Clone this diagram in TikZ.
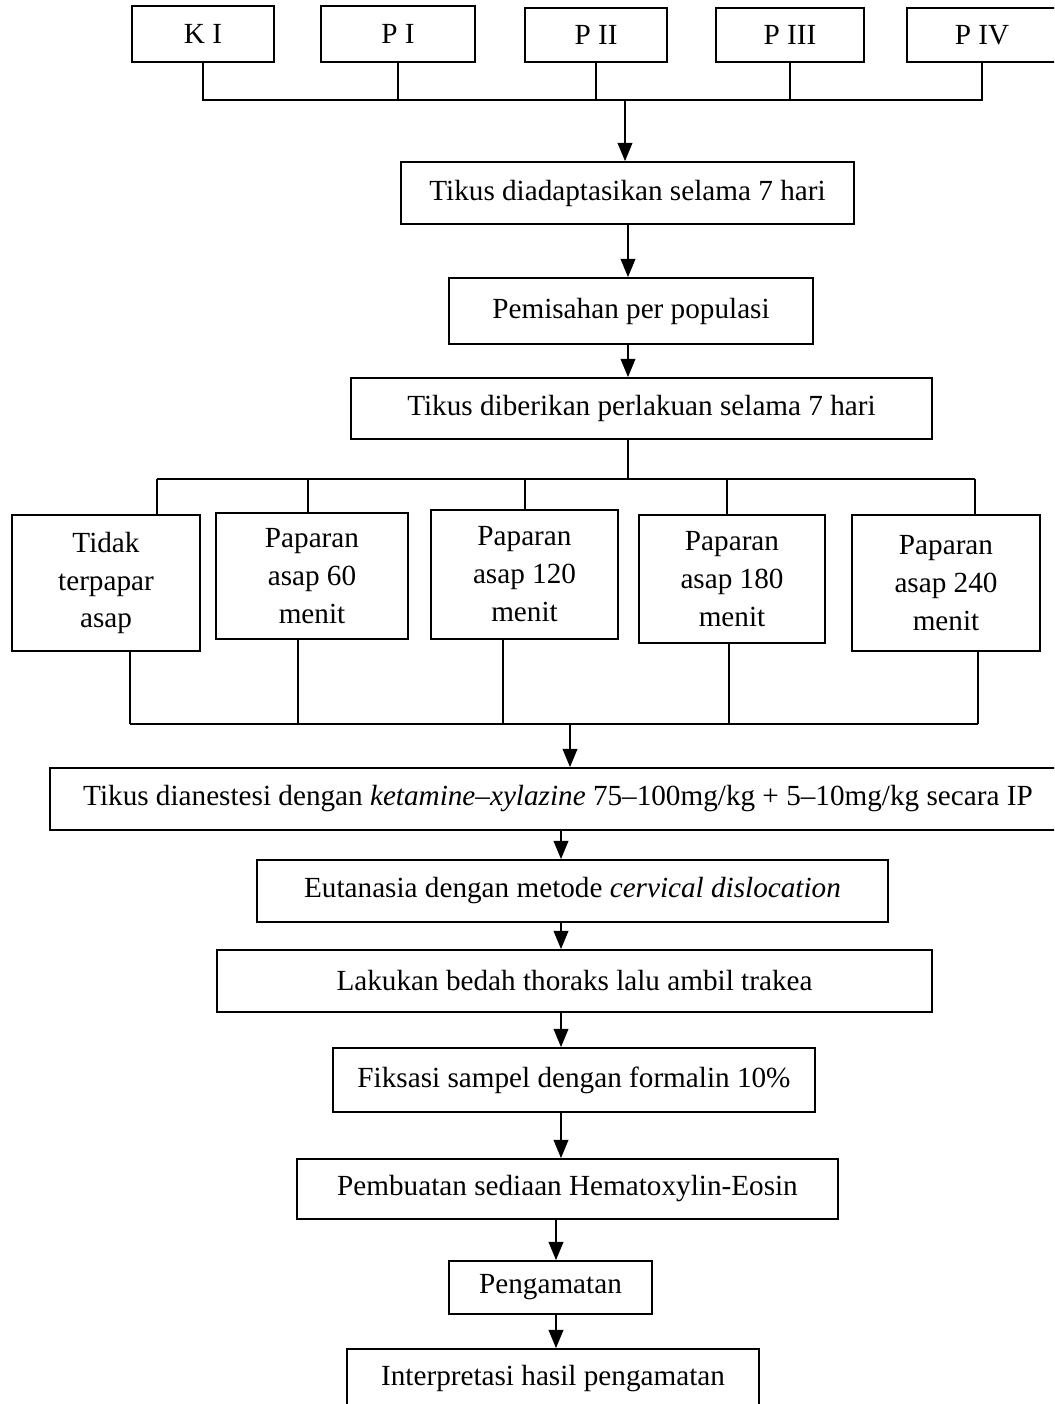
\documentclass[tikz,border=0pt]{standalone}
\usepackage{fontspec}
\setmainfont{Liberation Serif}
\usetikzlibrary{arrows.meta, positioning}
\newcommand{\px}{0.411pt}

\begin{document}
\begin{tikzpicture}[x=\px, y=-\px, every node/.style={font=\fontsize{12}{15.6}\selectfont}, align=center]
    % Define styles for the blocks
    \tikzstyle{box} = [rectangle, draw=black, line width=0.7pt, inner sep=0pt, text centered]
    \tikzstyle{line} = [line width=0.5pt]
    \tikzstyle{arrow} = [line width=0.8pt, -{Triangle[length=7.5pt, width=6pt]}]

    % Page frame
    \fill[white] (0,0) rectangle (1054,1404);
    \useasboundingbox (0,0) rectangle (1054,1404);
    \clip (0,0) rectangle (1054,1404);

    % Groups
    \node (KI) [box, minimum width=142*\px, minimum height=56*\px] at (203,34) {K I};
    \node (PI) [box, minimum width=154*\px, minimum height=56*\px] at (398,34) {P I};
    \node (PII) [box, minimum width=142*\px, minimum height=54*\px] at (596,35) {P II};
    \node (PIII) [box, minimum width=148*\px, minimum height=54*\px] at (790,35) {P III};
    \node (PIV) [box, minimum width=150*\px, minimum height=54*\px] at (982,35) {P IV};

    % Preparation steps
    \node (adapt) [box, minimum width=453*\px, minimum height=62*\px] at (627.5,193) {Tikus diadaptasikan selama 7 hari};
    \node (pisah) [box, minimum width=364*\px, minimum height=66*\px] at (631,311) {Pemisahan per populasi};
    \node (lakuan) [box, minimum width=581*\px, minimum height=61*\px] at (641.5,408.5) {Tikus diberikan perlakuan selama 7 hari};

    % Exposure boxes
    \node (g1) [box, minimum width=188*\px, minimum height=136*\px] at (106,583) {Tidak\\terpapar\\asap};
    \node (g2) [box, minimum width=192*\px, minimum height=126*\px] at (312,576) {Paparan\\asap 60\\menit};
    \node (g3) [box, minimum width=187*\px, minimum height=129*\px] at (524.5,574.5) {Paparan\\asap 120\\menit};
    \node (g4) [box, minimum width=186*\px, minimum height=128*\px] at (732,579) {Paparan\\asap 180\\menit};
    \node (g5) [box, minimum width=188*\px, minimum height=136*\px] at (946,583) {Paparan\\asap 240\\menit};

    % Sampling steps
    \node (ket) [box, minimum width=1016*\px, minimum height=62*\px] at (558,799) {Tikus dianestesi dengan \textit{ketamine–xylazine} 75–100mg/kg + 5–10mg/kg secara IP};
    \node (eut) [box, minimum width=631*\px, minimum height=62*\px] at (572.5,891) {Eutanasia dengan metode \textit{cervical dislocation}};
    \node (bedah) [box, minimum width=715*\px, minimum height=62*\px] at (574.5,981) {Lakukan bedah thoraks lalu ambil trakea};
    \node (fiksasi) [box, minimum width=482*\px, minimum height=64*\px] at (574,1080) {Fiksasi sampel dengan formalin 10\%};
    \node (sediaan) [box, minimum width=541*\px, minimum height=60*\px] at (567.5,1189) {Pembuatan sediaan Hematoxylin-Eosin};
    \node (amat) [box, minimum width=203*\px, minimum height=53*\px] at (550.5,1287.5) {Pengamatan};
    \node (interp) [box, minimum width=412*\px, minimum height=60*\px] at (553,1379) {Interpretasi hasil pengamatan};

    % Junction points
    \coordinate (topbar) at (625,100);
    \coordinate (axisA) at (628,0);
    \coordinate (axisB) at (561,0);
    \coordinate (axisC) at (556,0);
    \coordinate (b1) at (157,479);
    \coordinate (b2) at (308,479);
    \coordinate (b3) at (525,479);
    \coordinate (b4) at (727,479);
    \coordinate (b5) at (975,479);
    \coordinate (c0) at (570,724);
    \coordinate (c1) at (130,724);
    \coordinate (c2) at (298,724);
    \coordinate (c3) at (503,724);
    \coordinate (c4) at (729,724);
    \coordinate (c5) at (978,724);

    % Groups to adaptation
    \draw [line] (KI.south) |- (PIV.south |- topbar) -- (PIV.south);
    \foreach \n in {PI,PII,PIII}
        \draw [line] (\n.south) -- (\n.south |- topbar);
    \draw [arrow] (topbar) -- (topbar |- adapt.north);
    \draw [arrow] (adapt.south -| axisA) -- (pisah.north -| axisA);
    \draw [arrow] (pisah.south -| axisA) -- (lakuan.north -| axisA);

    % Split into exposure boxes
    \draw [line] (lakuan.south -| axisA) -- (axisA |- b1);
    \draw [line] (b1) -- (b5);
    \foreach \i in {1,...,5}
        \draw [line] (b\i) -- (b\i |- g\i.north);

    % Merge again
    \foreach \i in {1,...,5}
        \draw [line] (c\i |- g\i.south) -- (c\i);
    \draw [line] (c1) -- (c5);
    \draw [arrow] (c0) -- (c0 |- ket.north);

    % Sampling arrows
    \draw [arrow] (ket.south -| axisB) -- (eut.north -| axisB);
    \draw [arrow] (eut.south -| axisB) -- (bedah.north -| axisB);
    \draw [arrow] (bedah.south -| axisB) -- (fiksasi.north -| axisB);
    \draw [arrow] (fiksasi.south -| axisB) -- (sediaan.north -| axisB);
    \draw [arrow] (sediaan.south -| axisC) -- (amat.north -| axisC);
    \draw [arrow] (amat.south -| axisC) -- (interp.north -| axisC);

\end{tikzpicture}
\end{document}
